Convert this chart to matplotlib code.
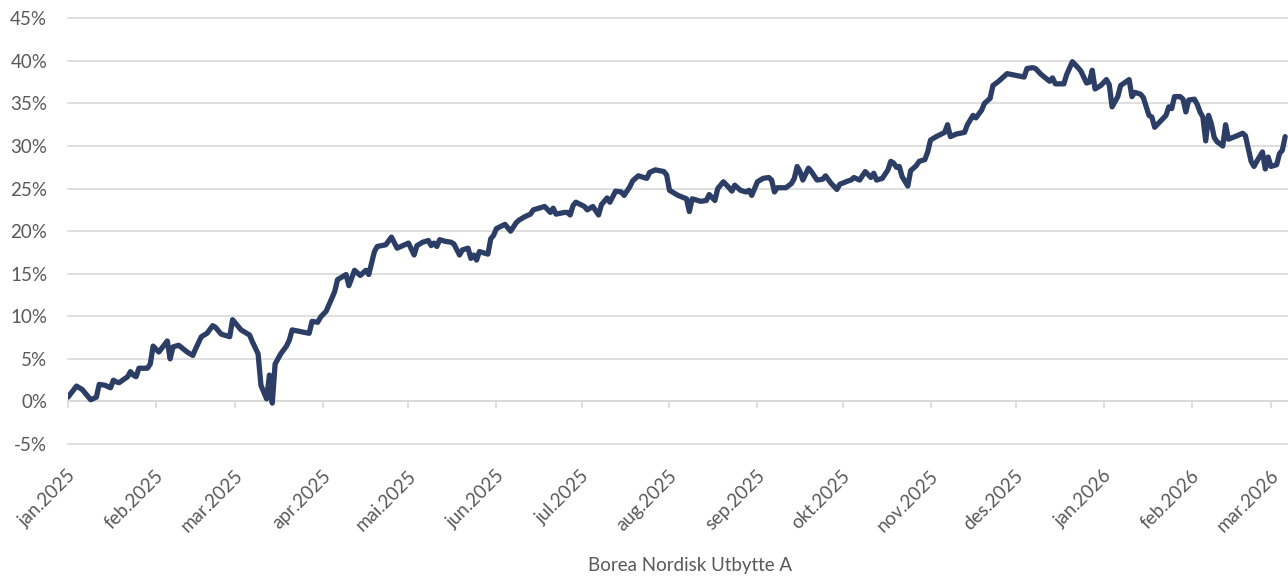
import matplotlib
matplotlib.use("Agg")
import matplotlib.pyplot as plt
import matplotlib.dates as mdates
import matplotlib.transforms as mtransforms
from matplotlib.ticker import FuncFormatter
import pandas as pd

plt.rcParams['font.family'] = ['Lato', 'DejaVu Sans']

series_name = "Borea Nordisk Utbytte A"

dates = [
    "2025-01-01", "2025-01-04", "2025-01-06", "2025-01-09", "2025-01-11", "2025-01-12",
    "2025-01-14", "2025-01-16", "2025-01-17", "2025-01-18", "2025-01-19", "2025-01-22",
    "2025-01-23", "2025-01-24", "2025-01-25", "2025-01-26", "2025-01-29", "2025-01-30",
    "2025-01-31", "2025-02-02", "2025-02-05", "2025-02-06", "2025-02-07", "2025-02-09",
    "2025-02-12", "2025-02-14", "2025-02-15", "2025-02-17", "2025-02-19", "2025-02-21",
    "2025-02-22", "2025-02-24", "2025-02-27", "2025-02-28",
    "2025-03-03", "2025-03-06", "2025-03-07", "2025-03-09", "2025-03-10", "2025-03-11",
    "2025-03-12", "2025-03-13", "2025-03-14", "2025-03-15", "2025-03-17", "2025-03-19",
    "2025-03-20", "2025-03-21", "2025-03-24", "2025-03-27", "2025-03-28", "2025-03-30",
    "2025-03-31", "2025-04-02", "2025-04-05", "2025-04-06", "2025-04-09", "2025-04-10",
    "2025-04-12", "2025-04-14", "2025-04-16", "2025-04-17", "2025-04-19", "2025-04-20",
    "2025-04-23", "2025-04-25", "2025-04-27",
    "2025-05-01", "2025-05-03", "2025-05-04", "2025-05-06", "2025-05-08", "2025-05-09",
    "2025-05-10", "2025-05-11", "2025-05-12", "2025-05-14", "2025-05-16", "2025-05-17",
    "2025-05-19", "2025-05-20", "2025-05-22", "2025-05-23", "2025-05-24", "2025-05-25",
    "2025-05-26", "2025-05-29", "2025-05-30", "2025-05-31",
    "2025-06-01", "2025-06-04", "2025-06-06", "2025-06-08", "2025-06-09", "2025-06-11",
    "2025-06-13", "2025-06-14", "2025-06-16", "2025-06-18", "2025-06-20", "2025-06-21",
    "2025-06-22", "2025-06-25", "2025-06-26", "2025-06-27", "2025-06-28", "2025-06-29",
    "2025-07-02", "2025-07-03", "2025-07-05", "2025-07-07", "2025-07-08", "2025-07-10",
    "2025-07-11", "2025-07-13", "2025-07-15", "2025-07-16", "2025-07-18", "2025-07-19",
    "2025-07-21", "2025-07-23", "2025-07-24", "2025-07-25", "2025-07-27", "2025-07-30",
    "2025-07-31",
    "2025-08-01", "2025-08-04", "2025-08-07", "2025-08-08", "2025-08-09", "2025-08-12",
    "2025-08-14", "2025-08-15", "2025-08-17", "2025-08-18", "2025-08-20", "2025-08-22",
    "2025-08-23", "2025-08-24", "2025-08-26", "2025-08-28", "2025-08-29", "2025-08-30",
    "2025-09-01", "2025-09-03", "2025-09-05", "2025-09-06", "2025-09-07", "2025-09-08",
    "2025-09-11", "2025-09-13", "2025-09-14", "2025-09-15", "2025-09-16", "2025-09-17",
    "2025-09-19", "2025-09-20", "2025-09-22", "2025-09-24", "2025-09-25", "2025-09-27",
    "2025-09-29", "2025-09-30",
    "2025-10-03", "2025-10-04", "2025-10-05", "2025-10-07", "2025-10-09", "2025-10-11",
    "2025-10-12", "2025-10-13", "2025-10-15", "2025-10-17", "2025-10-18", "2025-10-19",
    "2025-10-20", "2025-10-21", "2025-10-22", "2025-10-24", "2025-10-25", "2025-10-27",
    "2025-10-28", "2025-10-30", "2025-10-31",
    "2025-11-01", "2025-11-03", "2025-11-06", "2025-11-07", "2025-11-08", "2025-11-10",
    "2025-11-13", "2025-11-14", "2025-11-16", "2025-11-17", "2025-11-19", "2025-11-20",
    "2025-11-22", "2025-11-23", "2025-11-25", "2025-11-28",
    "2025-12-04", "2025-12-05", "2025-12-07", "2025-12-08", "2025-12-10", "2025-12-13",
    "2025-12-14", "2025-12-15", "2025-12-18", "2025-12-19", "2025-12-21", "2025-12-23",
    "2025-12-24", "2025-12-26", "2025-12-27", "2025-12-28", "2025-12-29", "2025-12-31",
    "2026-01-02", "2026-01-03", "2026-01-04", "2026-01-06", "2026-01-07", "2026-01-10",
    "2026-01-11", "2026-01-12", "2026-01-14", "2026-01-15", "2026-01-17", "2026-01-18",
    "2026-01-19", "2026-01-21", "2026-01-23", "2026-01-24", "2026-01-25", "2026-01-26",
    "2026-01-28", "2026-01-29", "2026-01-30", "2026-01-31",
    "2026-02-02", "2026-02-03", "2026-02-04", "2026-02-05", "2026-02-06", "2026-02-07",
    "2026-02-08", "2026-02-09", "2026-02-10", "2026-02-12", "2026-02-13", "2026-02-14",
    "2026-02-17", "2026-02-19", "2026-02-20", "2026-02-22", "2026-02-23", "2026-02-24",
    "2026-02-26", "2026-02-27", "2026-02-28",
    "2026-03-01", "2026-03-03", "2026-03-04", "2026-03-05", "2026-03-06",
]

returns_pct = [
    0.5, 1.8, 1.4, 0.2, 0.5, 2.0,
    1.9, 1.6, 2.5, 2.3, 2.2, 2.9,
    3.5, 3.1, 2.9, 3.9, 3.9, 4.4,
    6.5, 5.8, 7.1, 5.0, 6.4, 6.6,
    5.8, 5.4, 6.2, 7.6, 8.0, 8.9,
    8.7, 7.9, 7.6, 9.6,
    8.4, 7.8, 7.0, 5.6, 1.9, 1.1,
    0.3, 3.1, -0.2, 4.4, 5.6, 6.5,
    7.2, 8.4, 8.2, 8.0, 9.4, 9.3,
    9.9, 10.6, 12.9, 14.3, 14.9, 13.6,
    15.4, 14.8, 15.4, 14.9, 17.6, 18.2,
    18.4, 19.3, 18.0,
    18.6, 17.2, 18.3, 18.7, 18.9, 18.3,
    18.6, 18.2, 19.0, 18.8, 18.7, 18.5,
    17.2, 17.8, 18.0, 16.8, 17.2, 16.6,
    17.6, 17.3, 19.1, 19.5,
    20.3, 20.8, 20.0, 21.0, 21.3, 21.7,
    22.0, 22.5, 22.7, 22.9, 22.2, 22.7,
    22.0, 22.2, 22.2, 21.9, 23.0, 23.4,
    22.9, 22.5, 22.9, 21.9, 23.1, 23.9,
    23.4, 24.7, 24.6, 24.2, 25.2, 25.9,
    26.5, 26.3, 26.2, 26.9, 27.2, 27.0,
    26.6,
    24.8, 24.2, 23.8, 22.3, 23.8, 23.5,
    23.6, 24.3, 23.6, 25.0, 25.8, 25.1,
    24.7, 25.4, 24.8, 24.6, 24.8, 24.2,
    25.8, 26.2, 26.3, 26.0, 24.6, 25.1,
    25.1, 25.6, 26.2, 27.6, 27.0, 26.0,
    27.4, 27.0, 26.0, 26.1, 26.5, 25.6,
    24.9, 25.5,
    25.9, 26.0, 26.3, 26.0, 27.0, 26.3,
    26.8, 26.0, 26.2, 27.2, 28.2, 28.0,
    27.5, 27.6, 26.4, 25.3, 27.1, 27.7,
    28.2, 28.4, 29.3,
    30.7, 31.1, 31.6, 32.5, 31.1, 31.4,
    31.6, 32.5, 33.6, 33.3, 34.2, 35.0,
    35.6, 37.1, 37.6, 38.5,
    38.1, 39.1, 39.2, 39.1, 38.4, 37.6,
    38.0, 37.3, 37.3, 38.4, 39.9, 39.2,
    38.8, 37.4, 37.5, 38.9, 36.7, 37.1,
    37.8, 37.2, 34.6, 35.8, 37.1, 37.8,
    35.8, 36.3, 36.1, 35.7, 33.6, 33.4,
    32.2, 32.9, 33.6, 34.6, 34.4, 35.8,
    35.8, 35.5, 34.0, 35.4,
    35.5, 34.9, 34.0, 33.4, 30.6, 33.6,
    32.6, 31.0, 30.5, 30.0, 32.5, 30.8,
    31.2, 31.5, 31.2, 28.2, 27.6, 28.2,
    29.3, 27.3, 28.7,
    27.6, 27.8, 29.1, 29.5, 31.1,
]

month_ticks = ["2025-01-01", "2025-02-01", "2025-03-01", "2025-04-01", "2025-05-01",
               "2025-06-01", "2025-07-01", "2025-08-01", "2025-09-01", "2025-10-01",
               "2025-11-01", "2025-12-01", "2026-01-01", "2026-02-01", "2026-03-01"]
month_labels = ["jan.2025", "feb.2025", "mar.2025", "apr.2025", "mai.2025", "jun.2025",
                "jul.2025", "aug.2025", "sep.2025", "okt.2025", "nov.2025", "des.2025",
                "jan.2026", "feb.2026", "mar.2026"]
y_ticks = [-5, 0, 5, 10, 15, 20, 25, 30, 35, 40, 45]

W, H = 1288, 577
fig = plt.figure(figsize=(W / 100, H / 100), dpi=100)
ax = fig.add_axes([68 / W, 1 - 444 / H, (W - 68) / W, (444 - 18.3) / H])

x = pd.to_datetime(dates)
ax.plot(x, returns_pct, color="#2c3e66", lw=3.8, solid_joinstyle="round",
        solid_capstyle="round", zorder=5)

ax.set_xlim(pd.Timestamp("2025-01-01"), pd.Timestamp("2026-03-07"))
ax.set_ylim(-5, 45)
ax.set_yticks(y_ticks)
ax.yaxis.set_major_formatter(FuncFormatter(lambda v, _: f"{v:.0f}%"))
ax.grid(axis="y", color="#d9d9d9", lw=1.2)
ax.set_axisbelow(True)
for gl in ax.get_ygridlines():
    gl.set_clip_on(False)
for s in ax.spines.values():
    s.set_visible(False)

tick_pos = mdates.date2num(pd.to_datetime(month_ticks))
ax.set_xticks(tick_pos)
ax.set_xticklabels(month_labels, rotation=45, ha="right", va="center",
                   rotation_mode="anchor")
ax.tick_params(axis="x", length=0, pad=21, labelsize=13.5, labelcolor="#595959")
ax.tick_params(axis="y", length=0, pad=15, labelsize=13.5, labelcolor="#595959")
off = mtransforms.ScaledTranslation(5 / 100, 0, fig.dpi_scale_trans)
for lab in ax.get_xticklabels():
    lab.set_transform(lab.get_transform() + off)

# category axis crossing at 0%
sec = ax.secondary_xaxis(0.1)
sec.set_xticks(tick_pos)
sec.tick_params(axis="x", length=5, width=1.2, color="#d9d9d9", labelbottom=False)
sec.spines["bottom"].set_color("#d9d9d9")
sec.spines["bottom"].set_linewidth(1.2)

fig.text(690 / W, 1 - 566 / H, series_name, ha="center", va="center",
         fontsize=13.5, color="#595959")

fig.savefig("out.png", dpi=100)
